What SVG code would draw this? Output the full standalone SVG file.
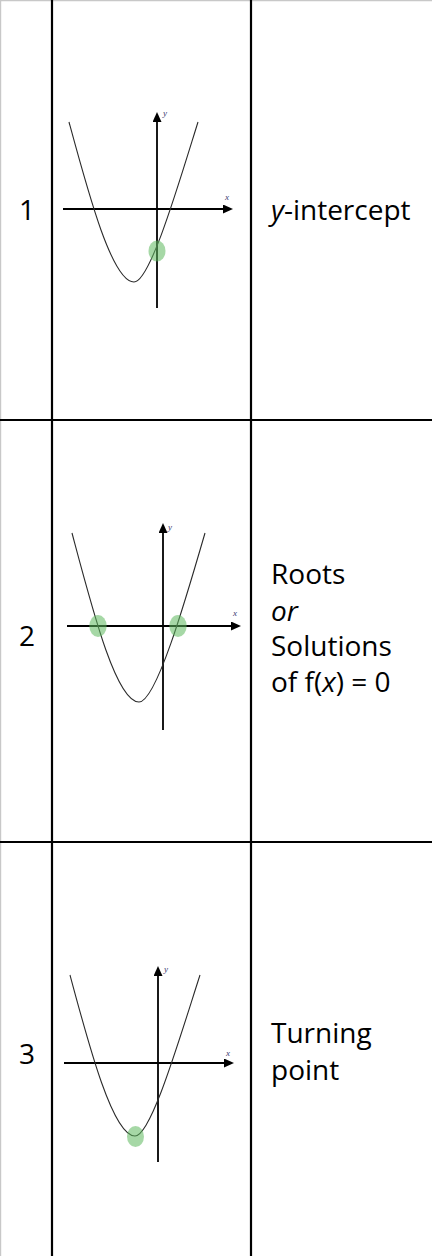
<svg xmlns="http://www.w3.org/2000/svg" width="432" height="1256" viewBox="0 0 432 1256">
<style>
.grid{stroke:#000;stroke-width:2.2;fill:none}
.edge{stroke:#c8c8c8;stroke-width:1.2;fill:none}
.axis{stroke:#000;stroke-width:1.8;fill:none}
.curve{stroke:#2a2a2a;stroke-width:1.1;fill:none}
.dot{fill:#5cb85c;opacity:0.55}
.lbl{font-family:"Open Sans","Noto Sans","Liberation Sans",sans-serif;font-size:28px;fill:#000}
.al{font-family:"Liberation Serif",serif;font-style:italic;font-size:9px;fill:#3a3a6e}
</style>
<defs>
<marker id="ah" markerUnits="userSpaceOnUse" markerWidth="12" markerHeight="12" refX="2" refY="4.5" orient="auto">
<path d="M0,0 L10,4.5 L0,9 Z" fill="#000"/>
</marker>
</defs>
<rect width="432" height="1256" fill="#fff"/>
<g id="table">
<line class="edge" x1="0" y1="0.6" x2="432" y2="0.6"/>
<line class="edge" x1="0.6" y1="0" x2="0.6" y2="1256"/>
<line class="grid" x1="52" y1="0" x2="52" y2="1256"/>
<line class="grid" x1="251" y1="0" x2="251" y2="1256"/>
<line class="grid" x1="0" y1="420" x2="432" y2="420"/>
<line class="grid" x1="0" y1="842" x2="432" y2="842"/>
</g>
<g id="row1">
<text class="lbl" x="27" y="220" text-anchor="middle">1</text>
<g transform="translate(157,209)">
<line class="axis" x1="0" y1="99" x2="0" y2="-89" marker-end="url(#ah)"/>
<line class="axis" x1="-94" y1="0" x2="68" y2="0" marker-end="url(#ah)"/>
<path class="curve" d="M-88,-87 C-69,-17 -45,73 -23,73 C-7,73 21,-23 41,-87"/>
<ellipse class="dot" cx="0" cy="42" rx="8.5" ry="10.5"/>
<text class="al" x="6" y="-93">y</text>
<text class="al" x="68" y="-9">x</text>
</g>
<text class="lbl" x="271" y="220"><tspan font-style="italic">y</tspan>-intercept</text>
</g>
<g id="row2">
<text class="lbl" x="27" y="646" text-anchor="middle">2</text>
<g transform="translate(163,626)">
<line class="axis" x1="0" y1="104" x2="0" y2="-95" marker-end="url(#ah)"/>
<line class="axis" x1="-96" y1="0" x2="70" y2="0" marker-end="url(#ah)"/>
<path class="curve" d="M-91,-93 C-71,-18 -47,76 -24,76 C-7,76 22,-24 42,-93"/>
<ellipse class="dot" cx="-65" cy="0" rx="8.7" ry="11"/>
<ellipse class="dot" cx="15" cy="0" rx="8.7" ry="11"/>
<text class="al" x="5" y="-96">y</text>
<text class="al" x="70" y="-10">x</text>
</g>
<text class="lbl" x="271" y="584">Roots</text>
<text class="lbl" x="271" y="621" font-style="italic">or</text>
<text class="lbl" x="271" y="656">Solutions</text>
<text class="lbl" x="271" y="692">of f(<tspan font-style="italic">x</tspan>) = 0</text>
</g>
<g id="row3">
<text class="lbl" x="27" y="1064" text-anchor="middle">3</text>
<g transform="translate(158,1063)">
<line class="axis" x1="0" y1="99" x2="0" y2="-89" marker-end="url(#ah)"/>
<line class="axis" x1="-94" y1="0" x2="68" y2="0" marker-end="url(#ah)"/>
<path class="curve" d="M-88,-88 C-69,-17 -45,73 -23,73 C-7,73 21,-23 42,-88"/>
<ellipse class="dot" cx="-22.5" cy="73.5" rx="8.5" ry="10.5"/>
<text class="al" x="6" y="-91">y</text>
<text class="al" x="68" y="-7">x</text>
</g>
<text class="lbl" x="271" y="1043">Turning</text>
<text class="lbl" x="271" y="1080">point</text>
</g>
</svg>
